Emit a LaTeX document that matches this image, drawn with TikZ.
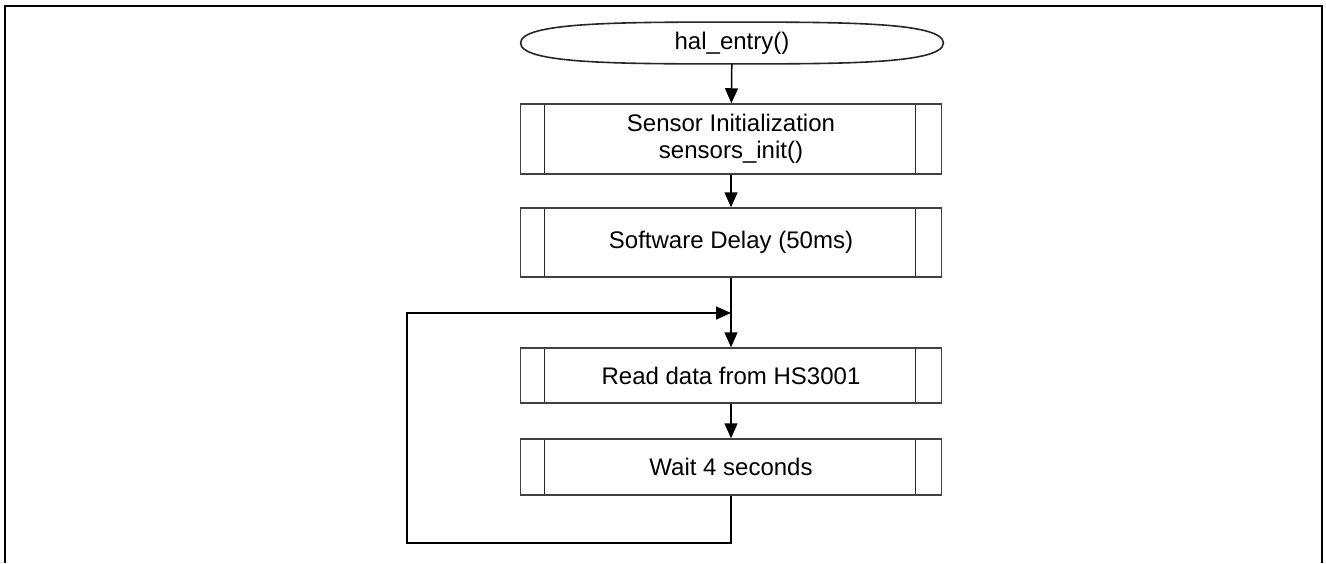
\documentclass[tikz,border=0pt]{standalone}
\usepackage{fontspec}
\setmainfont{Liberation Sans}
\usetikzlibrary{shapes.geometric,arrows.meta}
\tikzset{
  flowtext/.style={font=\fontsize{12}{13.5}\selectfont},
  terminal/.style={ellipse, minimum width=211pt, minimum height=20.5pt, inner sep=0pt, flowtext},
  termline/.style={draw=black!85, line width=.8pt},
  subproc/.style={rectangle, draw=black!75, line width=.75pt, minimum width=210.5pt, inner sep=0pt, align=center, flowtext,
    path picture={
      \draw[black!85, line width=.75pt] ([xshift=12pt]path picture bounding box.north west) -- ([xshift=12pt]path picture bounding box.south west);
      \draw[black!85, line width=.75pt] ([xshift=-13pt]path picture bounding box.north east) -- ([xshift=-13pt]path picture bounding box.south east);
    }},
  flow/.style={line width=.75pt, ->}
}
\begin{document}
\begin{tikzpicture}[x=.5pt, y=-.5pt, >={Triangle[length=7.5pt, width=6.5pt]}]
      \useasboundingbox (0,0) rectangle (1326,563);
      \draw[line width=1pt] (5,563) -- (5,6) -- (1322,6) -- (1322,563);
      \node[terminal] (entry) at (732,43) {hal\_entry()};
      \draw[termline] (entry.west) .. controls (entry.west |- entry.north) and ([xshift=-55pt]entry.north) .. (entry.north)
        .. controls ([xshift=55pt]entry.north) and (entry.east |- entry.north) .. (entry.east)
        .. controls (entry.east |- entry.south) and ([xshift=55pt]entry.south) .. (entry.south)
        .. controls ([xshift=-55pt]entry.south) and (entry.west |- entry.south) .. (entry.west) -- cycle;
      \node[subproc, minimum height=35pt] (init) at (731,139) {Sensor Initialization\\sensors\_init()};
      \node[subproc, minimum height=34.5pt] (delay) at (731,242.5) {Software Delay (50ms)};
      \node[subproc, minimum height=27.5pt] (read) at (731,375.5) {Read data from HS3001};
      \node[subproc, minimum height=28pt] (wait) at (731,467) {Wait 4 seconds};
      \coordinate (loopbot) at (407,543);
      \coordinate (looptop) at (407,313);
      \coordinate (join) at (731,313);
      \draw[flow] (entry) -- (init);
      \draw[flow] (init) -- (delay);
      \draw[flow] (delay) -- (read);
      \draw[flow] (read) -- (wait);
      \draw[flow] (wait.south) |- (loopbot) -- (looptop) -- (join);
\end{tikzpicture}
\end{document}
